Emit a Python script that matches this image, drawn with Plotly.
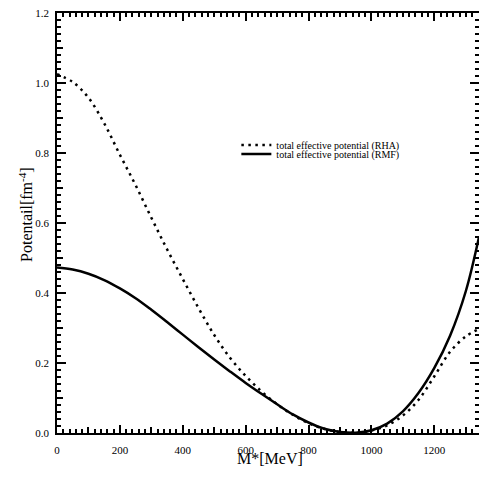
import plotly.graph_objects as go

M = [0, 50, 100, 150, 200, 250, 300, 350, 400, 450, 500, 550, 600, 650, 700,
     750, 800, 850, 900, 950, 1000, 1050, 1100, 1150, 1200, 1250, 1300, 1342]
RHA = [1.025, 1.003, 0.958, 0.885, 0.795, 0.708, 0.615, 0.525, 0.440, 0.357,
       0.280, 0.215, 0.163, 0.119, 0.082, 0.052, 0.028, 0.012, 0.003, 0.001,
       0.007, 0.022, 0.050, 0.095, 0.162, 0.232, 0.276, 0.297]
RMF = [0.473, 0.467, 0.455, 0.437, 0.413, 0.385, 0.352, 0.317, 0.281, 0.245,
       0.210, 0.176, 0.143, 0.112, 0.082, 0.053, 0.030, 0.012, 0.003, 0.001,
       0.008, 0.027, 0.062, 0.115, 0.186, 0.278, 0.405, 0.560]

XMAX = 1342
YMAX = 1.2
FONT = "Liberation Serif"

fig = go.Figure()
fig.add_trace(go.Scatter(x=M, y=RHA, mode="lines", line_shape="spline",
                         name="total effective potential (RHA)", legend="legend",
                         line=dict(color="black", width=2.5, dash="2.5px,4.5px")))
fig.add_trace(go.Scatter(x=M, y=RMF, mode="lines", line_shape="spline",
                         name="total effective potential (RMF)", legend="legend2",
                         line=dict(color="black", width=2.5)))
# invisible anchors for the tick-only overlay axes
for xa, ya in (("x2", "y2"), ("x3", "y3"), ("x4", "y4"), ("x5", "y5"), ("x6", "y6")):
    fig.add_trace(go.Scatter(x=[0], y=[0], xaxis=xa, yaxis=ya, mode="markers",
                             marker=dict(opacity=0), showlegend=False, hoverinfo="skip"))

leg_common = dict(xanchor="left", yanchor="middle",
                  font=dict(family=FONT, size=10, color="black"),
                  bgcolor="rgba(0,0,0,0)", borderwidth=0)


def tick_axis(rng, side, anchor, overlay, dtick, ticklen, tick0=0, showline=False):
    return dict(overlaying=overlay, anchor=anchor, side=side, range=rng,
                tick0=tick0, dtick=dtick, ticks="inside", ticklen=ticklen, tickwidth=1.5,
                tickcolor="black", showticklabels=False, showgrid=False,
                zeroline=False, showline=showline, linecolor="black", linewidth=1.5)


fig.update_layout(
    template="none",
    width=479, height=480,
    margin=dict(l=57, r=0, t=13, b=47),
    paper_bgcolor="white", plot_bgcolor="white",
    font=dict(family=FONT, color="black"),
    showlegend=True,
    legend=dict(x=0.425, y=0.686, **leg_common),
    legend2=dict(x=0.425, y=0.664, **leg_common),
    xaxis=dict(range=[0, XMAX], dtick=200, tick0=0, showgrid=False, zeroline=False,
               showline=True, linecolor="black", linewidth=1.5, ticks="",
               ticklabelstandoff=6,
               tickfont=dict(family=FONT, size=11, color="black")),
    yaxis=dict(range=[0, YMAX], dtick=0.2, tick0=0, tickformat=".1f", showgrid=False,
               zeroline=False, showline=True, linecolor="black", linewidth=1.5,
               ticks="", ticklabelstandoff=4,
               tickfont=dict(family=FONT, size=11, color="black")),
    # top / right major ticks
    xaxis2=tick_axis([0, XMAX], "top", "y", "x", 200, 8, showline=True),
    yaxis2=tick_axis([0, YMAX], "right", "x", "y", 0.2, 9),
    # bottom / left minor ticks
    xaxis3=tick_axis([0, XMAX], "bottom", "y", "x", 20, 4),
    yaxis3=tick_axis([0, YMAX], "left", "x", "y", 0.02, 4),
    # top / right minor ticks
    xaxis4=tick_axis([0, XMAX], "top", "y", "x", 20, 4),
    yaxis4=tick_axis([0, YMAX], "right", "x", "y", 0.02, 4),
    # bottom / left major ticks
    xaxis5=tick_axis([0, XMAX], "bottom", "y", "x", 200, 8),
    yaxis5=tick_axis([0, YMAX], "left", "x", "y", 0.2, 9),
    # bottom / left medium ticks
    xaxis6=tick_axis([0, XMAX], "bottom", "y", "x", 200, 6, tick0=100),
    yaxis6=tick_axis([0, YMAX], "left", "x", "y", 0.2, 6, tick0=0.1),
    annotations=[
        dict(text="M*[MeV]", xref="paper", yref="paper", x=0.505, y=-0.06,
             xanchor="center", yanchor="middle", showarrow=False,
             font=dict(family=FONT, size=16, color="black")),
        dict(text="Potentail[fm<sup>-4</sup>]", xref="paper", yref="paper",
             x=-0.075, y=0.52, xanchor="center", yanchor="middle", textangle=-90,
             showarrow=False, font=dict(family=FONT, size=16, color="black")),
    ],
)

fig.write_html("out.html", config={"displayModeBar": False},
               post_script="document.body.style.margin='0';document.body.style.overflow='hidden';")
